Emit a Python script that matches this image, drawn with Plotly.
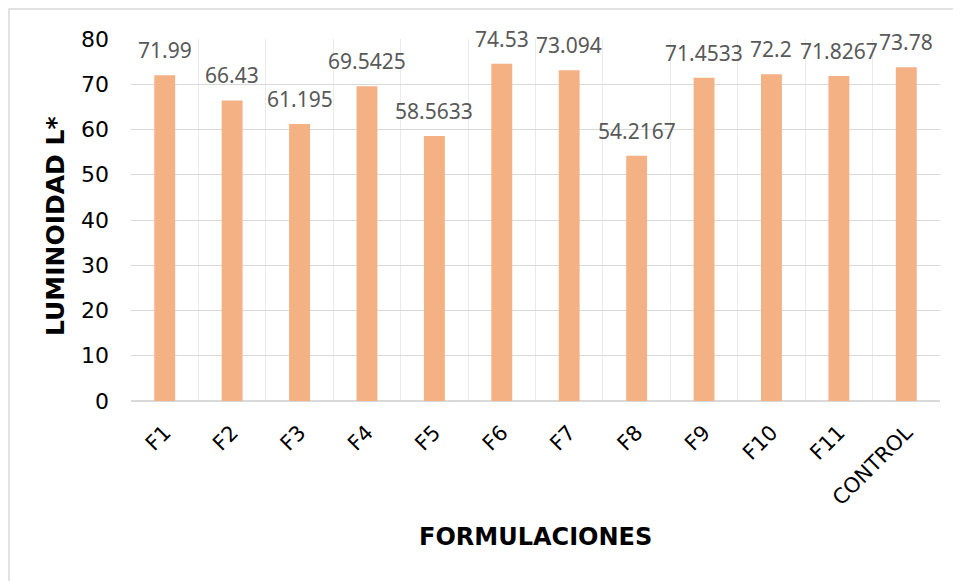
import plotly.graph_objects as go

categories = ["F1", "F2", "F3", "F4", "F5", "F6", "F7", "F8", "F9", "F10", "F11", "CONTROL"]
values = [71.99, 66.43, 61.195, 69.5425, 58.5633, 74.53, 73.094, 54.2167, 71.4533, 72.2, 71.8267, 73.78]
value_labels = ["71.99", "66.43", "61.195", "69.5425", "58.5633", "74.53", "73.094", "54.2167",
                "71.4533", "72.2", "71.8267", "73.78"]
y_ticks = [0, 10, 20, 30, 40, 50, 60, 70, 80]

OFF = 8  # page body margin
W, H = 961 - OFF, 581 - OFF
L, R, T, B = 131 - OFF, 21, 39 - OFF, 180
pw, ph = W - L - R, H - T - B

def px(x):
    return (x - OFF - L) / pw

def py(y):
    return (H - B - (y - OFF)) / ph

fig = go.Figure()
fig.add_trace(go.Bar(
    x=categories, y=values,
    marker=dict(color="#F4B183", line=dict(width=0)),
    width=0.31,
    hoverinfo="x+y",
))

for c, v, lab in zip(categories, values, value_labels):
    fig.add_annotation(
        x=c, y=v, xref="x", yref="y", text=lab, showarrow=False,
        yanchor="middle", yshift=25,
        font=dict(family="Noto Sans", size=21, color="#595959"),
    )

fig.add_annotation(
    x=0.5, y=py(537), xref="paper", yref="paper", text="<b>FORMULACIONES</b>",
    showarrow=False, xanchor="center", yanchor="middle",
    font=dict(family="DejaVu Sans", size=24, color="#000000"),
)
fig.add_annotation(
    x=px(55), y=py(226), xref="paper", yref="paper", text="<b>LUMINOIDAD L*</b>",
    showarrow=False, xanchor="center", yanchor="middle", textangle=-90,
    font=dict(family="DejaVu Sans", size=25, color="#000000"),
)

fig.add_shape(
    type="rect", xref="paper", yref="paper",
    x0=px(9), x1=1.2, y0=-0.7, y1=py(9),
    line=dict(color="#D9D9D9", width=1.5), fillcolor="rgba(0,0,0,0)", layer="below",
)

fig.update_layout(
    width=W, height=H,
    margin=dict(l=L, r=R, t=T, b=B),
    paper_bgcolor="white", plot_bgcolor="white",
    showlegend=False,
    font=dict(family="DejaVu Sans", size=21, color="#000000"),
    xaxis=dict(
        type="category", tickson="boundaries", showgrid=True, gridcolor="#EBEBEB", gridwidth=1,
        tickangle=-45, ticks="", showline=False, zeroline=False,
        tickfont=dict(family="DejaVu Sans", size=21, color="#000000"),
        ticklabelstandoff=14,
    ),
    yaxis=dict(
        range=[0, 80], tickvals=y_ticks, showgrid=True, gridcolor="#D9D9D9", gridwidth=1,
        zeroline=True, zerolinecolor="#D9D9D9", zerolinewidth=1.5,
        ticks="", showline=False,
        tickfont=dict(family="DejaVu Sans", size=22, color="#000000"),
        ticklabelstandoff=21,
    ),
)

fig.write_html("out.html")
